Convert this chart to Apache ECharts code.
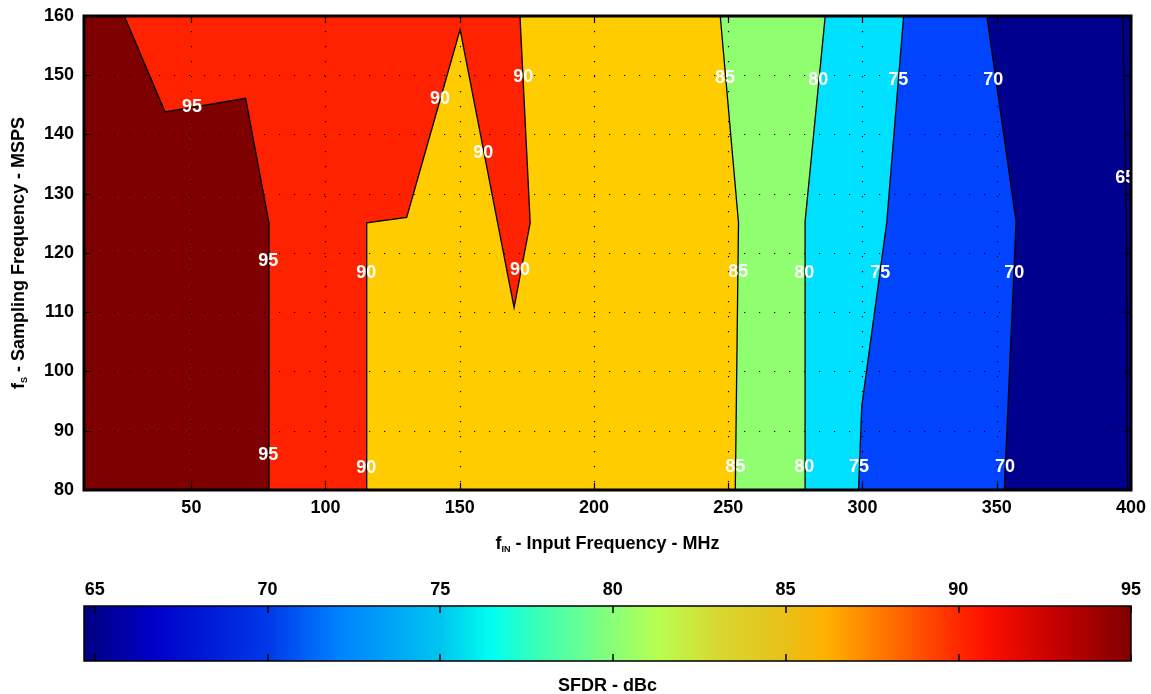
<!DOCTYPE html>
<html>
<head>
<meta charset="utf-8">
<script src="https://cdn.jsdelivr.net/npm/echarts@6/dist/echarts.min.js"></script>
<style>
  html, body { margin: 0; padding: 0; background: #fff; }
  #main { width: 1151px; height: 694px; }
</style>
</head>
<body>
<div id="main"></div>
<script>
// axis ranges and ticks
var finRange = [10, 400];
var fsRange = [80, 160];
var finTicks = [50, 100, 150, 200, 250, 300, 350, 400];
var sfdrRange = [64.69, 95];
var sfdrTicks = [65, 70, 75, 80, 85, 90, 95];

// contour lines [fIN, fS], listed from top (fS=160) to bottom (fS=80)
var edgeLeft = [[10, 160], [10, 80]];
var c95 = [[25.0, 160], [40.2, 143.8], [70.2, 146.1], [78.9, 125.1], [78.9, 80]];
var c90 = [[172.4, 160], [176.2, 125.1], [170.2, 110.8], [150.1, 157.7], [130.2, 126.0], [115.3, 125.1], [115.3, 80]];
var c85 = [[247.0, 160], [253.8, 125.1], [252.6, 80]];
var c80 = [[286.1, 160], [278.6, 125.3], [278.6, 80]];
var c75 = [[315.3, 160], [309.0, 125.1], [299.7, 94.1], [298.5, 80]];
var c70 = [[346.3, 160], [357.2, 125.3], [352.8, 80]];
var c65 = [[397.0, 160], [398.3, 125.3], [398.7, 80]];

// contour labels [fIN, fS, level]
var contourLabels = [
  [50.2, 144.6, 95], [78.6, 118.6, 95], [78.6, 85.9, 95],
  [142.6, 146.0, 90], [158.7, 136.9, 90], [173.6, 149.7, 90], [172.4, 117.1, 90],
  [115.1, 116.6, 90], [115.1, 83.7, 90],
  [248.8, 149.5, 85], [253.7, 116.8, 85], [252.6, 83.9, 85],
  [283.5, 149.2, 80], [278.3, 116.6, 80], [278.3, 83.9, 80],
  [313.3, 149.2, 75], [306.6, 116.6, 75], [298.7, 83.9, 75],
  [348.7, 149.2, 70], [356.5, 116.6, 70], [353.1, 83.9, 70],
  [397.9, 132.7, 65]
];

// band fill to the right of each line
var lines = [edgeLeft, c95, c90, c85, c80, c75, c70, c65];
var bandColors = ['#7f0000', '#ff2200', '#ffcc00', '#8fff6f', '#00e0ff', '#0044ff', '#00008f', '#000088'];

// colorbar gradient (value, colour)
var cbStops = [
  [64.69, '#000080'], [66.7, '#0000c8'], [70, '#0038e8'], [72, '#0080ff'],
  [75, '#00c4f0'], [76.5, '#00fff0'], [78, '#40ffb0'], [80, '#88ff78'],
  [81.3, '#b8ff50'], [83, '#d8d830'], [85, '#e8c018'], [86.2, '#ffb000'],
  [88, '#ff7000'], [90, '#ff2800'], [90.8, '#ff1000'], [93, '#c00000'], [95, '#800000']
];

var font = '"Liberation Sans", Arial, sans-serif';
var tickLabel = { fontFamily: font, fontWeight: 'bold', fontSize: 18, color: '#000' };
var dotted = { show: true, lineStyle: { color: '#000', width: 1.2, type: [1.2, 13.8] } };
var noLine = { show: false, onZero: false };
var titleRich = {
  f: { fontFamily: font, fontWeight: 'bold', fontSize: 18, color: '#000' },
  s: { fontFamily: font, fontWeight: 'bold', fontSize: 9, color: '#000', padding: [11, 0, 0, 0] },
  t: { fontFamily: font, fontWeight: 'bold', fontSize: 18, color: '#000' }
};

var chart = echarts.init(document.getElementById('main'));

var option = {
  animation: false,
  grid: [
    { left: 84, top: 16, width: 1047, height: 474, outerBoundsMode: 'none', containLabel: false,
      show: true, borderColor: '#000', borderWidth: 3, backgroundColor: 'transparent', z: 10 },
    { left: 84, top: 606, width: 1047, height: 55, outerBoundsMode: 'none', containLabel: false,
      show: true, borderColor: '#000', borderWidth: 1.5, backgroundColor: 'transparent', z: 10 }
  ],
  xAxis: [
    {
      gridIndex: 0, type: 'value', min: finRange[0], max: finRange[1], position: 'bottom', z: 5,
      axisLine: noLine,
      axisTick: { inside: true, length: 7, customValues: finTicks, lineStyle: { color: '#000', width: 1.2 } },
      axisLabel: Object.assign({ customValues: finTicks, margin: 9 }, tickLabel),
      splitLine: dotted,
      name: '{f|f}{s|IN}{t| - Input Frequency - MHz}',
      nameLocation: 'middle', nameGap: 44,
      nameTextStyle: { rich: titleRich }
    },
    {
      gridIndex: 0, type: 'value', min: finRange[0], max: finRange[1], position: 'top', z: 5,
      axisLine: noLine,
      axisTick: { inside: true, length: 7, customValues: finTicks, lineStyle: { color: '#000', width: 1.2 } },
      axisLabel: { show: false }, splitLine: { show: false }
    },
    {
      gridIndex: 1, type: 'value', min: sfdrRange[0], max: sfdrRange[1], position: 'top', z: 5,
      axisLine: noLine,
      axisTick: { inside: true, length: 7, customValues: sfdrTicks, lineStyle: { color: '#000', width: 1.5 } },
      axisLabel: Object.assign({ customValues: sfdrTicks, margin: 7 }, tickLabel),
      splitLine: { show: false }
    },
    {
      gridIndex: 1, type: 'value', min: sfdrRange[0], max: sfdrRange[1], position: 'bottom', z: 5,
      axisLine: noLine,
      axisTick: { inside: true, length: 7, customValues: sfdrTicks, lineStyle: { color: '#000', width: 1.5 } },
      axisLabel: { show: false }, splitLine: { show: false },
      name: 'SFDR - dBc', nameLocation: 'middle', nameGap: 16,
      nameTextStyle: { fontFamily: font, fontWeight: 'bold', fontSize: 18, color: '#000' }
    }
  ],
  yAxis: [
    {
      gridIndex: 0, type: 'value', min: fsRange[0], max: fsRange[1], interval: 10, position: 'left', z: 5,
      axisLine: noLine,
      axisTick: { inside: true, length: 7, lineStyle: { color: '#000', width: 1.2 } },
      axisLabel: Object.assign({ margin: 10 }, tickLabel),
      splitLine: dotted,
      name: '{f|f}{s|S}{t| - Sampling Frequency - MSPS}',
      nameLocation: 'middle', nameGap: 55, nameRotate: 90,
      nameTextStyle: { rich: titleRich }
    },
    {
      gridIndex: 0, type: 'value', min: fsRange[0], max: fsRange[1], interval: 10, position: 'right', z: 5,
      axisLine: noLine,
      axisTick: { inside: true, length: 7, lineStyle: { color: '#000', width: 1.2 } },
      axisLabel: { show: false }, splitLine: { show: false }
    },
    { gridIndex: 1, type: 'value', min: 0, max: 1, show: false, axisLine: noLine }
  ],
  series: [
    {
      type: 'custom', name: 'bands', xAxisIndex: 0, yAxisIndex: 0, z: 2,
      data: lines.map(function (l, i) { return [l[0][0], l[0][1], i]; }),
      renderItem: function (params, api) {
        var line = lines[params.dataIndex];
        var pts = line.map(function (p) { return api.coord(p); });
        var poly = pts.concat([api.coord([finRange[1], fsRange[0]]), api.coord([finRange[1], fsRange[1]])]);
        var children = [{
          type: 'polygon', shape: { points: poly },
          style: { fill: bandColors[params.dataIndex], stroke: null }
        }];
        if (params.dataIndex > 0) {
          children.push({
            type: 'polyline', shape: { points: pts },
            style: { stroke: '#000', lineWidth: 1.3, fill: null }
          });
        }
        return { type: 'group', children: children };
      }
    },
    {
      type: 'custom', name: 'labels', xAxisIndex: 0, yAxisIndex: 0, z: 8, clip: true,
      data: contourLabels,
      renderItem: function (params, api) {
        var p = api.coord([api.value(0), api.value(1)]);
        return {
          type: 'text', x: p[0], y: p[1],
          style: {
            text: String(api.value(2)), fill: '#fff',
            font: 'bold 18px ' + font, align: 'center', verticalAlign: 'middle'
          }
        };
      }
    },
    {
      type: 'custom', name: 'colorbar', xAxisIndex: 2, yAxisIndex: 2, z: 2,
      data: [[sfdrRange[0], 0]],
      renderItem: function (params, api) {
        var a = api.coord([sfdrRange[0], 1]);
        var b = api.coord([sfdrRange[1], 0]);
        var span = sfdrRange[1] - sfdrRange[0];
        var stops = cbStops.map(function (s) {
          return { offset: (s[0] - sfdrRange[0]) / span, color: s[1] };
        });
        return {
          type: 'rect',
          shape: { x: a[0], y: a[1], width: b[0] - a[0], height: b[1] - a[1] },
          style: { fill: new echarts.graphic.LinearGradient(0, 0, 1, 0, stops) }
        };
      }
    }
  ]
};

chart.setOption(option);
</script>
</body>
</html>
